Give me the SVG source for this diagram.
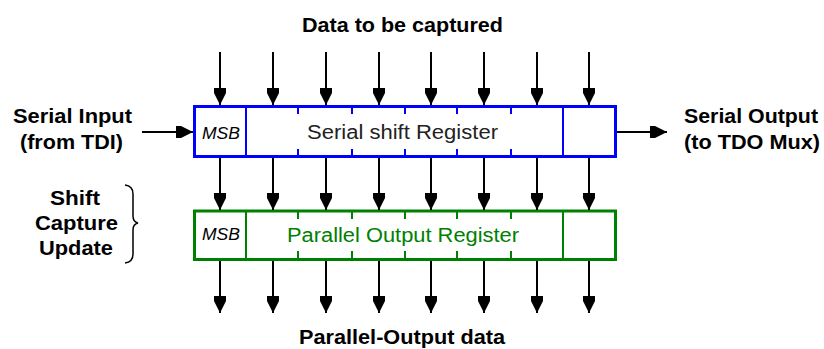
<svg xmlns="http://www.w3.org/2000/svg" width="824" height="349" viewBox="0 0 824 349">
<style>
  .lbl { font-family: "Liberation Sans", Arial, sans-serif; font-weight: bold; font-size: 21px; fill: #000; text-anchor: middle; }
  .msb { font-family: "Liberation Sans", Arial, sans-serif; font-style: italic; font-size: 17px; fill: #000; text-anchor: middle; }
  .reg { font-family: "Liberation Sans", Arial, sans-serif; font-size: 20px; text-anchor: middle; }
  .wire { stroke: #000; stroke-width: 2; fill: none; marker-end: url(#ah); }
  .blue { stroke: #0000ff; fill: #fff; }
  .green { stroke: #008000; fill: #fff; }
</style>
<defs>
  <marker id="ah" viewBox="0 -7 17 14" refX="17" refY="0" markerWidth="17" markerHeight="14" orient="auto" markerUnits="userSpaceOnUse">
    <path d="M0,-6 L5,-6 L17,0 L5,6 L0,6 Z" fill="#000"/>
  </marker>
</defs>
<rect width="824" height="349" fill="#fff"/>

<g id="title-top"><text class="lbl" x="402.5" y="32" textLength="201" lengthAdjust="spacingAndGlyphs">Data to be captured</text></g>
<g id="title-bottom"><text class="lbl" x="402" y="344" textLength="206" lengthAdjust="spacingAndGlyphs">Parallel-Output data</text></g>

<g id="serial-input">
  <text class="lbl" x="72.5" y="123" textLength="119" lengthAdjust="spacingAndGlyphs">Serial Input</text>
  <text class="lbl" x="71.5" y="149" textLength="103" lengthAdjust="spacingAndGlyphs">(from TDI)</text>
</g>
<g id="serial-output">
  <text class="lbl" x="751" y="123" textLength="134" lengthAdjust="spacingAndGlyphs">Serial Output</text>
  <text class="lbl" x="752" y="149" textLength="136" lengthAdjust="spacingAndGlyphs">(to TDO Mux)</text>
</g>
<g id="control">
  <text class="lbl" x="75" y="205" textLength="50" lengthAdjust="spacingAndGlyphs">Shift</text>
  <text class="lbl" x="76.5" y="230" textLength="83" lengthAdjust="spacingAndGlyphs">Capture</text>
  <text class="lbl" x="76" y="255" textLength="74" lengthAdjust="spacingAndGlyphs">Update</text>
  <path d="M125,185 Q133,186 133,194 L133,216 Q133,222 138,223 Q133,224 133,230 L133,254 Q133,262 125,263" stroke="#000" stroke-width="1.5" fill="none"/>
</g>

<g id="shift-register">
  <rect class="blue" x="194.5" y="106.5" width="421" height="50" stroke-width="3"/>
  <g stroke="#0000ff" stroke-width="2">
    <line x1="246" y1="106" x2="246" y2="157"/>
    <line x1="563" y1="106" x2="563" y2="157"/>
    <path d="M298,106 V114 M352,106 V114 M405,106 V114 M457,106 V114 M511,106 V114 M298,157 V149 M352,157 V149 M405,157 V149 M457,157 V149 M511,157 V149"/>
  </g>
  <text class="msb" x="221" y="139" textLength="38" lengthAdjust="spacingAndGlyphs">MSB</text>
  <text class="reg" x="402.5" y="138.5" fill="#222" textLength="191" lengthAdjust="spacingAndGlyphs">Serial shift Register</text>
</g>

<g id="parallel-register">
  <rect class="green" x="194.5" y="211" width="421" height="48.5" stroke-width="3"/>
  <g stroke="#008000" stroke-width="2">
    <line x1="246" y1="211" x2="246" y2="259"/>
    <line x1="563" y1="211" x2="563" y2="259"/>
    <path d="M298,211 V219 M352,211 V219 M405,211 V219 M457,211 V219 M511,211 V219 M298,259 V251 M352,259 V251 M405,259 V251 M457,259 V251 M511,259 V251"/>
  </g>
  <text class="msb" x="221" y="240" textLength="38" lengthAdjust="spacingAndGlyphs">MSB</text>
  <text class="reg" x="403" y="241.5" fill="#008000" textLength="232" lengthAdjust="spacingAndGlyphs">Parallel Output Register</text>
</g>

<g id="connectors">
  <path class="wire" d="M142,132 H193"/>
  <path class="wire" d="M617,132 H667"/>
  <path class="wire" d="M220,52 V105"/>
  <path class="wire" d="M273,52 V105"/>
  <path class="wire" d="M326,52 V105"/>
  <path class="wire" d="M379,52 V105"/>
  <path class="wire" d="M431,52 V105"/>
  <path class="wire" d="M484,52 V105"/>
  <path class="wire" d="M537,52 V105"/>
  <path class="wire" d="M589,52 V105"/>
  <path class="wire" d="M220,158 V210"/>
  <path class="wire" d="M273,158 V210"/>
  <path class="wire" d="M326,158 V210"/>
  <path class="wire" d="M379,158 V210"/>
  <path class="wire" d="M431,158 V210"/>
  <path class="wire" d="M484,158 V210"/>
  <path class="wire" d="M537,158 V210"/>
  <path class="wire" d="M589,158 V210"/>
  <path class="wire" d="M220,261 V313"/>
  <path class="wire" d="M273,261 V313"/>
  <path class="wire" d="M326,261 V313"/>
  <path class="wire" d="M379,261 V313"/>
  <path class="wire" d="M431,261 V313"/>
  <path class="wire" d="M484,261 V313"/>
  <path class="wire" d="M537,261 V313"/>
  <path class="wire" d="M589,261 V313"/>
</g>
</svg>
